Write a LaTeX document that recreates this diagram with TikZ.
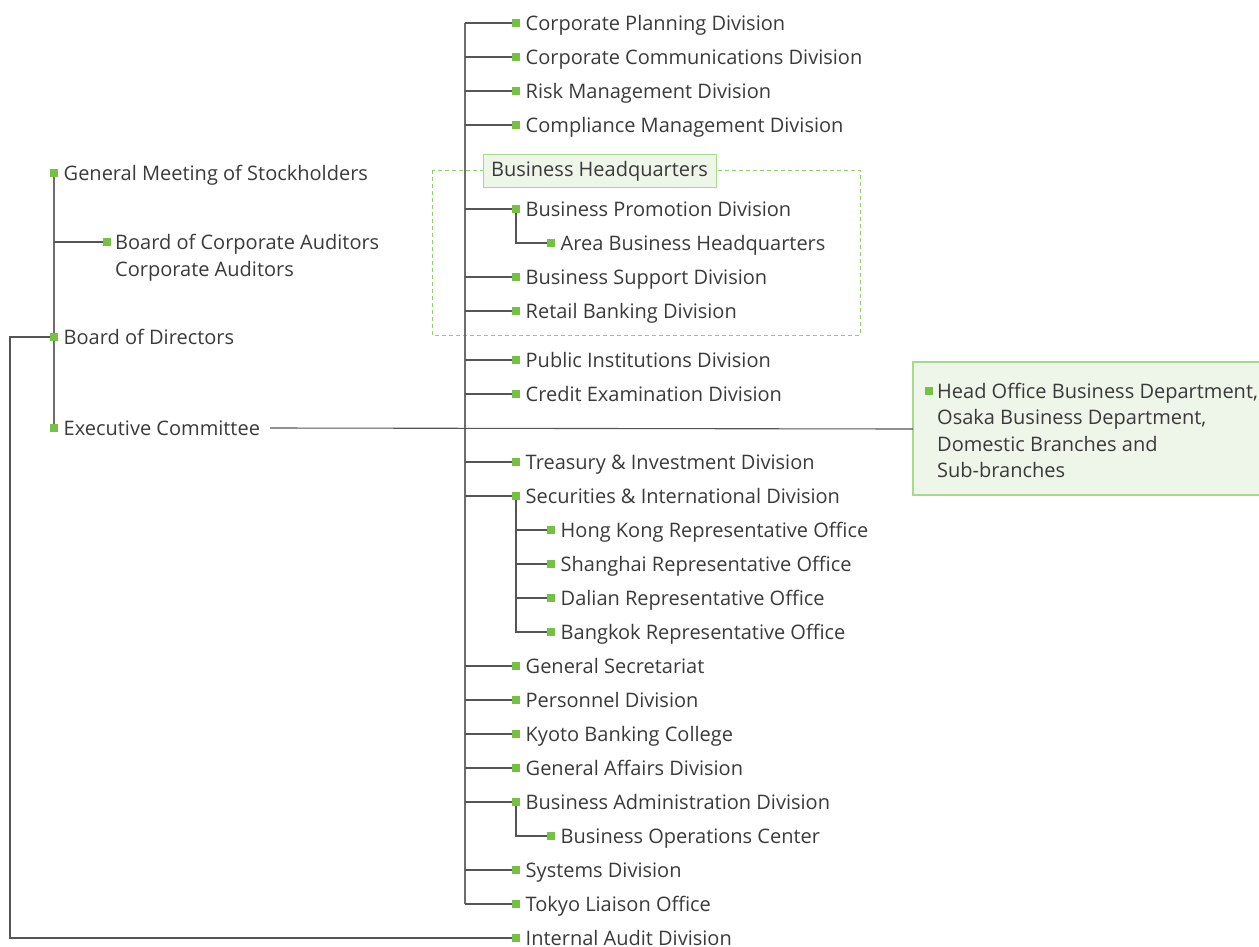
\documentclass[tikz,border=0pt]{standalone}
\usepackage{fontspec}
\setmainfont{Open Sans}
\definecolor{sqgreen}{HTML}{76C043}
\definecolor{boxfill}{HTML}{EEF5E9}
\definecolor{boxline}{HTML}{A6D98A}
\definecolor{dashgreen}{HTML}{8FD16A}
\definecolor{txt}{HTML}{3A3A3A}
\definecolor{ln}{HTML}{555555}
\newcommand\orgrow[4]{%
  \node[sq] (#1s) at (#2,#3) {};
  \node[lbl] (#1) at ({#2+9.5},{#3+7}) {#4};}
\begin{document}
\begin{tikzpicture}[x=1pt,y=-1pt,
  sq/.style={fill=sqgreen, minimum size=8.5pt, inner sep=0pt, draw=none},
  lbl/.style={anchor=base west, inner sep=0pt, text=txt, font=\fontsize{20}{26.3}\selectfont},
  conn/.style={draw=ln, line width=1.1pt},
  trunk/.style={draw=ln!85, line width=1.6pt}]
\useasboundingbox (0,0) rectangle (1259,946);
\coordinate (t) at (465,0);
\coordinate (l) at (10,0);

% Business HQ dashed box
\draw[dashgreen, line width=1pt, dash pattern=on 4pt off 3pt] (432,170) rectangle (860,335);

% right box
\draw[boxline, fill=boxfill, line width=1.2pt] (913,362) rectangle (1266,495);

% main trunk
\draw[trunk] (465,23) -- (465,904);

% rows on trunk
\foreach \n/\y in {cp/23,cc/57,rm/91,cm/125,bp/209,bs/277,rb/311,pi/360,ce/394,ti/462,si/496,gs/666,pd/700,kb/734,ga/768,ba/802,sd/870,tl/904}
  \draw[conn] (t |- 0,\y) -- (512,\y);

\orgrow{cp}{516}{23}{Corporate Planning Division}
\orgrow{cc}{516}{57}{Corporate Communications Division}
\orgrow{rm}{516}{91}{Risk Management Division}
\orgrow{cm}{516}{125}{Compliance Management Division}

\node[draw=boxline, fill=boxfill, line width=1pt, minimum width=233pt, minimum height=33pt, inner sep=0pt, text=txt, font=\fontsize{20}{26}\selectfont] (bhq) at (599.5,171) {Business Headquarters};

\draw[conn] (516,209) |- (547,243);
\orgrow{bp}{516}{209}{Business Promotion Division}
\orgrow{abh}{551}{243}{Area Business Headquarters}
\orgrow{bs}{516}{277}{Business Support Division}
\orgrow{rb}{516}{311}{Retail Banking Division}
\orgrow{pi}{516}{360}{Public Institutions Division}
\orgrow{ce}{516}{394}{Credit Examination Division}
\orgrow{ti}{516}{462}{Treasury \& Investment Division}

\draw[conn] (516,496) |- (547,632);
\foreach \y in {530,564,598} \draw[conn] (516,\y) -- (547,\y);
\orgrow{si}{516}{496}{Securities \& International Division}
\orgrow{hk}{551}{530}{Hong Kong Representative Office}
\orgrow{sh}{551}{564}{Shanghai Representative Office}
\orgrow{dl}{551}{598}{Dalian Representative Office}
\orgrow{bk}{551}{632}{Bangkok Representative Office}
\orgrow{gs}{516}{666}{General Secretariat}
\orgrow{pd}{516}{700}{Personnel Division}
\orgrow{kb}{516}{734}{Kyoto Banking College}
\orgrow{ga}{516}{768}{General Affairs Division}
\draw[conn] (516,802) |- (547,836);
\orgrow{ba}{516}{802}{Business Administration Division}
\orgrow{boc}{551}{836}{Business Operations Center}
\orgrow{sd}{516}{870}{Systems Division}
\orgrow{tl}{516}{904}{Tokyo Liaison Office}

% left part
\draw[trunk] (54,173) -- (54,428);
\draw[conn] (54,242) -- (103,242);
\orgrow{gm}{54}{173}{General Meeting of Stockholders}
\node[sq] (bcas) at (107,242) {};
\node[lbl, align=left, anchor=north west, font=\fontsize{20}{27}\selectfont] (bca) at (115,234) {Board of Corporate Auditors\\Corporate Auditors};
\orgrow{bod}{54}{337}{Board of Directors}
\orgrow{ex}{54}{428}{Executive Committee}

\orgrow{ia}{516}{938}{Internal Audit Division}
\draw[conn] (bods.west) -- (bods.west -| l) |- (ias.west);

% executive line to right box
\coordinate (hobw) at (913,429);
\draw[conn] ([xshift=10pt]ex.east |- exs) -- (hobw);

% right box content
\node[sq] (hobs) at (929,391) {};
\node[lbl, align=left, anchor=north west] (hob) at (937,383) {Head Office Business Department,\\Osaka Business Department,\\Domestic Branches and\\Sub-branches};
\end{tikzpicture}
\end{document}
